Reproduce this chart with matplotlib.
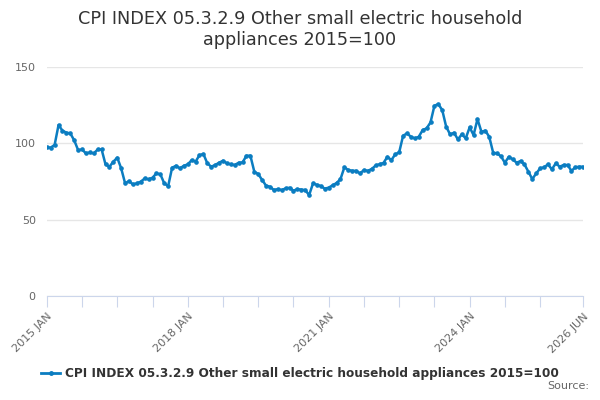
import numpy as np
import matplotlib
matplotlib.use("Agg")
import matplotlib.pyplot as plt
from matplotlib.lines import Line2D

# monthly index values, 2015 JAN .. 2026 JUN
values = [
    97.4, 97.2, 99.0, 112.0, 108.3, 107.0, 106.5, 102.0, 95.6, 96.0, 93.4, 94.0,      # 2015
    93.4, 96.0, 96.0, 86.2, 84.7, 88.0, 90.6, 83.6, 73.8, 75.3, 73.1, 73.8,          # 2016
    74.9, 77.0, 76.4, 77.5, 80.3, 79.7, 73.8, 72.0, 84.0, 85.3, 83.6, 85.3,          # 2017
    86.2, 89.0, 88.0, 92.3, 93.0, 86.9, 84.7, 85.8, 87.3, 88.6, 86.9, 86.2,          # 2018
    85.8, 87.3, 87.5, 91.9, 91.9, 81.4, 79.9, 76.0, 72.3, 71.6, 69.4, 70.0,          # 2019
    69.4, 70.5, 70.9, 69.0, 70.0, 69.7, 69.4, 66.1, 73.8, 72.8, 72.0, 70.3,          # 2020
    71.0, 72.5, 74.0, 76.5, 84.3, 82.5, 82.0, 82.0, 80.3, 82.5, 82.0, 83.2,          # 2021
    85.5, 86.3, 87.2, 91.2, 89.0, 92.8, 94.1, 105.0, 106.5, 104.3, 103.2, 104.3,     # 2022
    108.7, 109.8, 113.7, 124.6, 125.7, 121.8, 110.9, 105.9, 106.9, 102.6, 105.9, 103.3,  # 2023
    110.5, 105.4, 115.9, 107.6, 108.3, 104.3, 93.9, 93.4, 91.5, 87.3, 91.2, 89.5,    # 2024
    87.3, 88.4, 86.2, 81.4, 76.6, 80.3, 83.6, 84.3, 86.2, 83.0, 86.9, 84.7,          # 2025
    85.8, 85.8, 82.0, 84.3, 84.7, 84.7,                                              # 2026
]
tick_months = [0, 9, 18, 27, 36, 45, 54, 63, 72, 81, 90, 99, 108, 117, 126, 137]
tick_labels = {0: "2015 JAN", 36: "2018 JAN", 72: "2021 JAN", 108: "2024 JAN", 137: "2026 JUN"}
y_ticks = [0, 50, 100, 150]

title = "CPI INDEX 05.3.2.9 Other small electric household appliances 2015=100"
line_col = "#0b7dc1"

plt.rcParams["font.family"] = ["DejaVu Sans"]

fig = plt.figure(figsize=(6, 4), dpi=100)
ax = fig.add_axes([0.078, 0.26, 0.894, 0.5725])

x = np.arange(len(values))
ax.plot(x, values, color=line_col, lw=1.8, marker="o", ms=2.3, zorder=3)

ax.set_xlim(0, len(values) - 1)
ax.set_ylim(0, 150)
ax.set_yticks(y_ticks)
ax.yaxis.grid(True, color="#e6e6e6", lw=1)
ax.set_axisbelow(True)
ax.tick_params(axis="y", length=0, labelsize=8, labelcolor="#666666", pad=8)

ax.set_xticks(tick_months)
ax.set_xticklabels([tick_labels.get(m, "") for m in tick_months],
                   rotation=45, ha="right", rotation_mode="anchor")
ax.tick_params(axis="x", length=8, color="#ccd6eb", labelsize=8,
               labelcolor="#666666", pad=3)

for s in ["top", "right", "left"]:
    ax.spines[s].set_visible(False)
ax.spines["bottom"].set_color("#ccd6eb")

fig.text(0.5, 0.975, "CPI INDEX 05.3.2.9 Other small electric household\nappliances 2015=100",
         ha="center", va="top", fontsize=12.7, color="#333333", linespacing=1.2)

handle = Line2D([0], [0], color=line_col, lw=2, marker="o", ms=2.5)
fig.legend([handle], [title], loc="center", bbox_to_anchor=(0.5, 0.066),
           frameon=False, handlelength=1.6, handletextpad=0.4,
           prop={"size": 8.7, "weight": "bold"}, labelcolor="#333333")

fig.text(0.982, 0.022, "Source:", ha="right", va="bottom", fontsize=8, color="#666666")

fig.savefig("out.png", dpi=100)
